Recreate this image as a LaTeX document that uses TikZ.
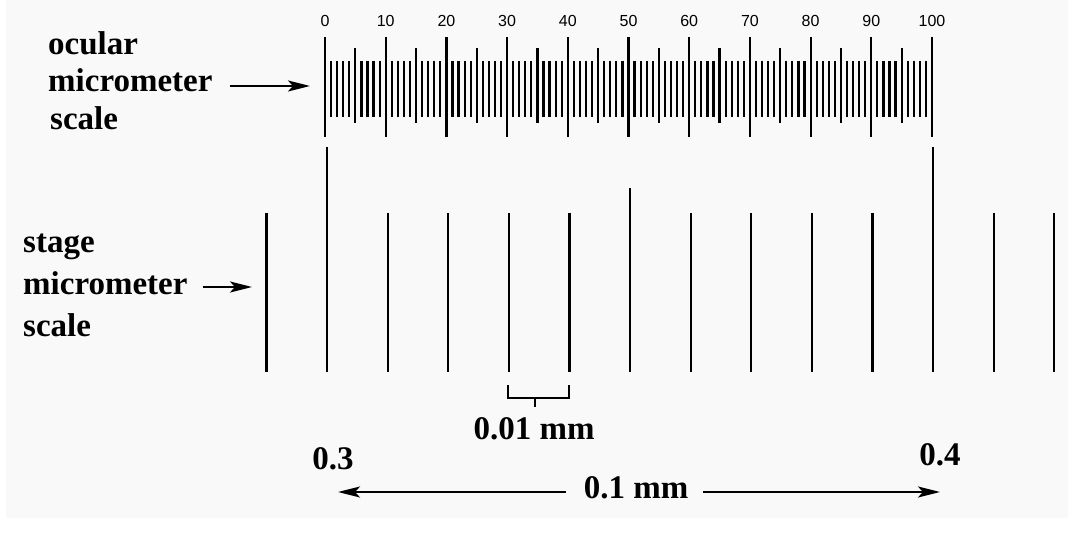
\documentclass[tikz,border=0pt]{standalone}
\usepackage{fontspec}
\setmainfont{Liberation Serif}
\setsansfont{Liberation Sans}
\usetikzlibrary{arrows.meta}
\definecolor{paper}{HTML}{F9F9F9}

\begin{document}
\begin{tikzpicture}[x=1pt,y=-1pt,
    word node/.style={anchor=base west,inner sep=0pt,font=\fontsize{33}{36}\selectfont\bfseries},
    value node/.style={anchor=base,inner sep=0pt,font=\fontsize{33}{36}\selectfont\bfseries},
    tick label/.style={anchor=base,inner sep=0pt,font=\sffamily\fontsize{16}{17}\selectfont},
    tick/.style={line width=2.2pt},
    pointer/.style={line width=2.4pt,-{Stealth[length=22pt,width=11pt,inset=5pt]}}]
    \useasboundingbox (0,0) rectangle (1074,534);
    \fill[paper] (6,0) rectangle (1068,518);

    \foreach \i in {0,10,...,100} {
      \draw[tick] ({325+6.07*\i},37) -- ++(0,100);
      \node[tick label] at ({325+6.07*\i},27) {\i};
    }
    \foreach \i in {5,15,...,95}
      \draw[tick] ({325+6.07*\i},48) -- ++(0,75);
    \foreach \j in {0,5,...,95}
      \foreach \k in {1,...,4}
        \draw[tick] ({325+6.07*(\j+\k)},61) -- ++(0,56);

    \foreach \j in {-1,1,2,3,4,6,7,8,9,11,12}
      \draw[tick] ({327+60.6*\j},213) -- (327+60.6*\j,372);
    \foreach \j in {0,10}
      \draw[tick] ({327+60.6*\j},147) -- (327+60.6*\j,372);
    \draw[tick] (630,188) -- (630,372);

    \node[word node] (ocword) at (48,55) {ocular};
    \node[word node] (ocmicro) at (48,92) {micrometer};
    \node[word node] (ocscale) at (50,130) {scale};
    \coordinate (octip) at (310,86);

    \node[word node] (stword) at (23,253) {stage};
    \node[word node] (stmicro) at (23,295) {micrometer};
    \node[word node] (stscale) at (23,337) {scale};
    \coordinate (sttip) at (252,287);

    \draw[pointer] (ocmicro.east |- octip) ++(17,0) -- (octip);
    \draw[pointer] (stmicro.east |- sttip) ++(15,0) -- (sttip);

    \draw[tick] (508,385) |- (569,398) -- (569,385);
    \draw[tick] (535,398) -- (535,407);
    \node[value node] (hundredth) at (534,440) {0.01 mm};

    \node[value node] (low) at (333,470) {0.3};
    \node[value node] (high) at (940,466) {0.4};
    \node[value node] (tenth) at (636,498) {0.1 mm};
    \coordinate (lefttip) at (338,492);
    \coordinate (righttip) at (940,492);

    \draw[pointer] (tenth.west |- lefttip) ++(-18,0) -- (lefttip);
    \draw[pointer] (tenth.east |- righttip) ++(15,0) -- (righttip);
\end{tikzpicture}
\end{document}
